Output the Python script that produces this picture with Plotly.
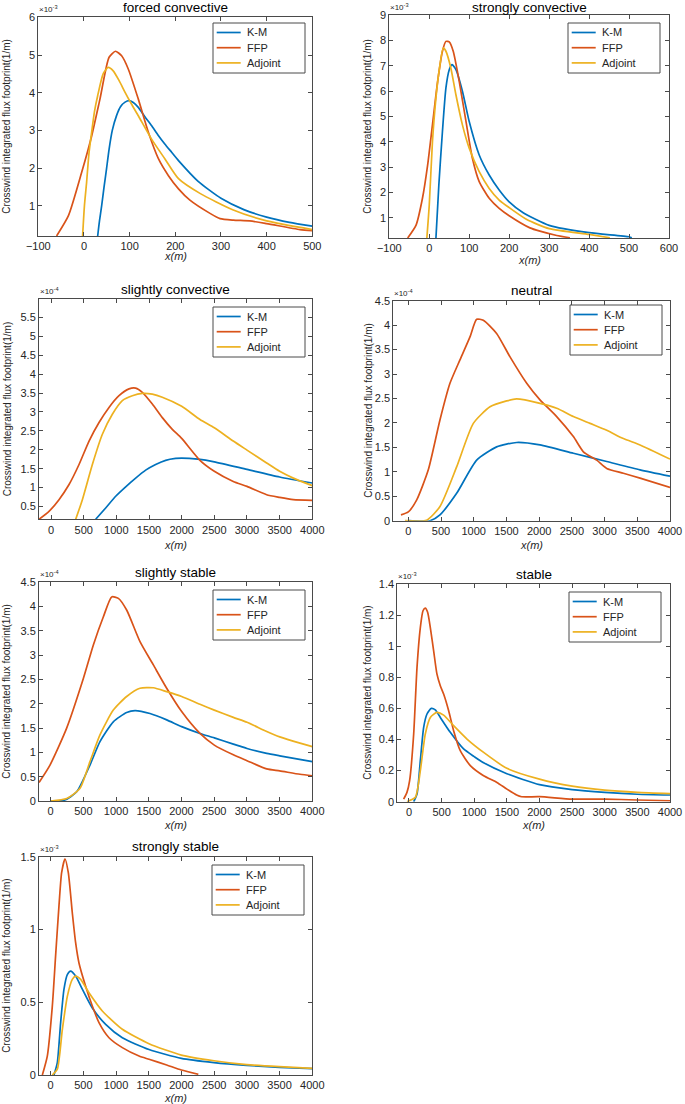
import plotly.graph_objects as go

W, H = 685, 1104

# ---------------- data (values shown in units of the axis exponent) ----------------
# forced convective (x1e-3)
fc_km_x = [30, 34, 38.7, 44, 49.6, 55, 62, 71.5, 80, 90, 98.5, 108, 119, 133, 148, 162, 177, 192, 207, 250, 300, 350, 400, 450, 500]
fc_km_y = [0.2, 0.6, 1.0, 1.5, 2.0, 2.5, 3.0, 3.4, 3.63, 3.75, 3.79, 3.74, 3.61, 3.37, 3.13, 2.88, 2.64, 2.42, 2.2, 1.65, 1.2, 0.9, 0.7, 0.56, 0.46]
fc_ffp_x = [-60, -34, -5, 17, 35, 55, 69, 82.5, 97, 119, 141, 163, 185, 207, 232, 276, 298, 327, 363, 400, 473, 500]
fc_ffp_y = [0.2, 0.74, 1.89, 2.86, 3.83, 4.94, 5.1, 4.98, 4.63, 3.83, 2.95, 2.25, 1.8, 1.45, 1.15, 0.8, 0.66, 0.62, 0.6, 0.53, 0.37, 0.34]
fc_adj_x = [-3, 1, 5.8, 11, 16.8, 23, 30, 42, 53, 64, 77, 90, 104, 119, 148, 177, 207, 254, 327, 400, 500]
fc_adj_y = [0.2, 1.0, 1.63, 2.4, 2.95, 3.5, 3.92, 4.5, 4.67, 4.58, 4.32, 4.01, 3.7, 3.39, 2.77, 2.25, 1.72, 1.33, 0.89, 0.6, 0.37]

# strongly convective (x1e-3)
sc_km_x = [16.7, 24, 33, 41.7, 50, 56.7, 66.7, 83, 100, 125, 150, 175, 200, 235, 300, 400, 500, 507]
sc_km_y = [0.19, 2.3, 4.41, 6.13, 6.85, 7.05, 6.85, 6.0, 4.8, 3.48, 2.69, 2.1, 1.63, 1.2, 0.7, 0.41, 0.25, 0.21]
sc_ffp_x = [-54, -33, -17, -4, 8, 21, 33, 41.7, 50, 60, 75, 92, 108, 125, 150, 175, 200, 252, 277, 319, 352]
sc_ffp_y = [0.2, 0.71, 1.77, 3.09, 4.67, 6.39, 7.58, 7.97, 7.95, 7.58, 6.39, 4.8, 3.35, 2.43, 1.77, 1.37, 1.08, 0.6, 0.47, 0.3, 0.21]
sc_adj_x = [-6, 0, 8, 16.7, 25, 35, 41.7, 54, 66.7, 83, 100, 125, 150, 175, 200, 244, 300, 400, 452]
sc_adj_y = [0.2, 1.5, 4.0, 5.73, 6.85, 7.71, 7.58, 6.92, 5.86, 4.67, 3.75, 2.82, 2.16, 1.7, 1.4, 0.93, 0.57, 0.34, 0.21]

# slightly convective (x1e-4)
slc_km_x = [684, 837, 990, 1143, 1296, 1449, 1602, 1755, 1908, 2000, 2250, 2500, 3000, 3500, 4000]
slc_km_y = [0.16, 0.46, 0.77, 1.02, 1.25, 1.46, 1.61, 1.72, 1.77, 1.78, 1.75, 1.68, 1.48, 1.28, 1.12]
slc_ffp_x = [-184, -31, 122, 276, 429, 582, 735, 888, 1041, 1194, 1296, 1398, 1551, 1704, 1857, 2000, 2280, 2500, 2790, 3000, 3301, 3500, 3709, 4000]
slc_ffp_y = [0.16, 0.37, 0.68, 1.08, 1.61, 2.23, 2.72, 3.12, 3.43, 3.61, 3.63, 3.52, 3.21, 2.85, 2.54, 2.3, 1.72, 1.43, 1.16, 1.03, 0.81, 0.74, 0.68, 0.66]
slc_adj_x = [378, 480, 633, 786, 939, 1092, 1245, 1398, 1551, 1704, 2000, 2280, 2500, 2790, 3000, 3301, 3500, 3709, 4000]
slc_adj_y = [0.16, 0.68, 1.61, 2.41, 2.94, 3.3, 3.43, 3.49, 3.47, 3.39, 3.15, 2.8, 2.58, 2.23, 1.99, 1.65, 1.43, 1.25, 1.05]

# neutral (x1e-4)
neu_km_x = [0, 331, 484, 739, 1045, 1350, 1656, 2013, 2523, 3033, 3542, 4000]
neu_km_y = [0, 0, 0.12, 0.56, 1.24, 1.51, 1.6, 1.55, 1.38, 1.21, 1.04, 0.91]
neu_ffp_x = [-112, 0, 127, 306, 484, 637, 790, 943, 1045, 1147, 1350, 1555, 1810, 2013, 2268, 2523, 2676, 2880, 3033, 3287, 3542, 4000]
neu_ffp_y = [0.12, 0.18, 0.42, 1.04, 2.06, 2.81, 3.29, 3.76, 4.12, 4.1, 3.83, 3.35, 2.81, 2.47, 2.13, 1.72, 1.41, 1.24, 1.07, 0.97, 0.87, 0.68]
neu_adj_x = [-51, 280, 484, 739, 994, 1249, 1503, 1656, 2013, 2268, 2523, 2778, 3033, 3287, 3542, 4000]
neu_adj_y = [0, 0.01, 0.29, 1.1, 1.99, 2.33, 2.45, 2.49, 2.4, 2.3, 2.13, 1.99, 1.85, 1.68, 1.55, 1.26]

# slightly stable (x1e-4)
sls_km_x = [0, 219, 398, 601, 754, 958, 1162, 1290, 1519, 1774, 2003, 2283, 2502, 2793, 3002, 3303, 3502, 4000]
sls_km_y = [0, 0.02, 0.19, 0.74, 1.22, 1.63, 1.82, 1.86, 1.8, 1.67, 1.53, 1.39, 1.3, 1.17, 1.08, 0.98, 0.93, 0.81]
sls_ffp_x = [-178, -10, 245, 500, 653, 806, 933, 1035, 1162, 1366, 1570, 1774, 2003, 2283, 2502, 2793, 3002, 3303, 3502, 3812, 4000]
sls_ffp_y = [0.38, 0.74, 1.5, 2.52, 3.21, 3.79, 4.2, 4.17, 3.93, 3.28, 2.8, 2.32, 1.84, 1.39, 1.15, 0.95, 0.83, 0.66, 0.62, 0.55, 0.52]
sls_adj_x = [0, 245, 449, 601, 754, 958, 1162, 1366, 1570, 1774, 2003, 2283, 2502, 2793, 3002, 3303, 3502, 3812, 4000]
sls_adj_y = [0, 0.05, 0.26, 0.81, 1.36, 1.87, 2.15, 2.32, 2.33, 2.25, 2.15, 1.99, 1.87, 1.72, 1.62, 1.43, 1.32, 1.19, 1.12]

# stable (x1e-3)
st_km_x = [72, 123, 174, 225, 276, 342, 403, 480, 633, 837, 1000, 1144, 1500, 2000, 2500, 3000, 3500, 4000]
st_km_y = [0, 0.05, 0.264, 0.478, 0.564, 0.6, 0.59, 0.542, 0.446, 0.339, 0.29, 0.25, 0.18, 0.11, 0.078, 0.06, 0.048, 0.043]
st_ffp_x = [-82, -31, 10, 72, 123, 174, 215, 250, 286, 327, 378, 429, 480, 531, 608, 684, 786, 940, 1144, 1348, 1501, 1650, 1726, 2000, 2500, 3000, 3500, 4000]
st_ffp_y = [0.017, 0.06, 0.135, 0.435, 0.864, 1.12, 1.228, 1.245, 1.218, 1.12, 0.97, 0.82, 0.746, 0.692, 0.585, 0.457, 0.328, 0.232, 0.167, 0.124, 0.081, 0.043, 0.032, 0.032, 0.017, 0.017, 0.011, 0.006]
st_adj_x = [-31, 97, 174, 250, 327, 429, 531, 684, 889, 1144, 1500, 2000, 2500, 3000, 3500, 4000]
st_adj_y = [0, 0.028, 0.2, 0.435, 0.542, 0.574, 0.557, 0.489, 0.403, 0.317, 0.215, 0.145, 0.1, 0.074, 0.06, 0.052]

# strongly stable (x1e-3)
ss_km_x = [51, 102, 153, 204, 255, 306, 382, 484, 637, 841, 1096, 1504, 1998, 2497, 2997, 3496, 4000]
ss_km_y = [0, 0.085, 0.36, 0.59, 0.69, 0.714, 0.68, 0.59, 0.46, 0.348, 0.256, 0.175, 0.114, 0.085, 0.066, 0.053, 0.044]
ss_ffp_x = [-127, -51, 25, 76, 127, 168, 219, 270, 331, 382, 433, 535, 637, 739, 892, 1096, 1351, 1504, 1774, 1998, 2258]
ss_ffp_y = [0, 0.13, 0.47, 0.82, 1.16, 1.39, 1.486, 1.39, 1.115, 0.909, 0.77, 0.61, 0.474, 0.36, 0.256, 0.188, 0.13, 0.108, 0.069, 0.034, 0.005]
ss_adj_x = [25, 102, 178, 255, 331, 382, 459, 586, 790, 1096, 1504, 1998, 2497, 2997, 3496, 4000]
ss_adj_y = [0, 0.04, 0.31, 0.54, 0.657, 0.68, 0.657, 0.565, 0.44, 0.314, 0.215, 0.137, 0.098, 0.071, 0.057, 0.046]

series_names = ["K-M", "FFP", "Adjoint"]
colors = ["#0072BD", "#D95319", "#EDB120"]

titles = ["forced convective", "strongly convective", "slightly convective", "neutral",
          "slightly stable", "stable", "strongly stable"]
exponents = ["-3", "-3", "-4", "-4", "-4", "-3", "-3"]

panel_data = [
    [(fc_km_x, fc_km_y), (fc_ffp_x, fc_ffp_y), (fc_adj_x, fc_adj_y)],
    [(sc_km_x, sc_km_y), (sc_ffp_x, sc_ffp_y), (sc_adj_x, sc_adj_y)],
    [(slc_km_x, slc_km_y), (slc_ffp_x, slc_ffp_y), (slc_adj_x, slc_adj_y)],
    [(neu_km_x, neu_km_y), (neu_ffp_x, neu_ffp_y), (neu_adj_x, neu_adj_y)],
    [(sls_km_x, sls_km_y), (sls_ffp_x, sls_ffp_y), (sls_adj_x, sls_adj_y)],
    [(st_km_x, st_km_y), (st_ffp_x, st_ffp_y), (st_adj_x, st_adj_y)],
    [(ss_km_x, ss_km_y), (ss_ffp_x, ss_ffp_y), (ss_adj_x, ss_adj_y)],
]

x_ranges = [[-100, 500], [-100, 600], [-184, 4000], [-229, 4000], [-178, 4000], [-179, 4000], [-178, 4000]]
x_ticks = [list(range(-100, 501, 100)), list(range(-100, 601, 100))] + [list(range(0, 4001, 500))] * 5
y_ranges = [[0.2, 6], [0.2, 9], [0.16, 5.98], [0, 4.5], [0, 4.5], [0, 1.4], [0, 1.5]]
y_ticks = [[1, 2, 3, 4, 5, 6], [1, 2, 3, 4, 5, 6, 7, 8, 9],
           [0.5, 1, 1.5, 2, 2.5, 3, 3.5, 4, 4.5, 5, 5.5],
           [0, 0.5, 1, 1.5, 2, 2.5, 3, 3.5, 4, 4.5],
           [0, 0.5, 1, 1.5, 2, 2.5, 3, 3.5, 4, 4.5],
           [0, 0.2, 0.4, 0.6, 0.8, 1, 1.2, 1.4],
           [0, 0.5, 1, 1.5]]

# ---------------- layout geometry (pixels) ----------------
boxes = [(38.3, 17.3, 312.3, 236), (389.3, 15.3, 669, 238),
         (39, 299.3, 312.3, 519.3), (393.3, 300.7, 670, 520.7),
         (39, 582.3, 312.3, 801), (397.3, 584, 670, 801.7),
         (39, 856.7, 312.3, 1075)]
legend_pos = [(213, 23), (568, 23), (213, 307), (570, 305), (213, 590), (569, 592), (212, 865)]
LEG_W, LEG_H = 92, 50
xlab_y = [256, 260, 545, 545, 825, 825, 1098]
ylab_x = [7, 368, 7, 369, 7, 368, 7]

FONT = "Liberation Sans, Arial, Helvetica, sans-serif"
TXT = "#262626"
AX = "#4a4a4a"

def px(x):
    return x / W

def py(y):
    return 1 - y / H

fig = go.Figure()
layout = dict(width=W, height=H, margin=dict(l=0, r=0, t=0, b=0, pad=0, autoexpand=False),
              paper_bgcolor="white", plot_bgcolor="white", template="none", showlegend=False,
              font=dict(family=FONT, size=11, color=TXT), annotations=[], shapes=[])

for i in range(7):
    n = i + 1
    xa = "x" if n == 1 else f"x{n}"
    ya = "y" if n == 1 else f"y{n}"
    for j, (xs, ys) in enumerate(panel_data[i]):
        fig.add_trace(go.Scatter(x=xs, y=ys, mode="lines", name=series_names[j],
                                 line=dict(color=colors[j], width=1.7, shape="spline", smoothing=0.6),
                                 xaxis=xa, yaxis=ya, showlegend=False))
    x0, y0, x1, y1 = boxes[i]
    axcommon = dict(showline=True, linecolor=AX, linewidth=1, mirror="ticks", automargin=False,
                    ticks="inside", ticklen=4, tickcolor=AX, showgrid=False, zeroline=False,
                    tickfont=dict(size=11, color=TXT, family=FONT))
    layout[f"xaxis{n}"] = dict(domain=[px(x0), px(x1)], range=x_ranges[i], tickvals=x_ticks[i],
                               anchor=ya, **axcommon)
    layout[f"yaxis{n}"] = dict(domain=[py(y1), py(y0)], range=y_ranges[i], tickvals=y_ticks[i],
                               anchor=xa, **axcommon)

    # legend box (drawn by hand to match the compact MATLAB legend)
    lx, ly = legend_pos[i]
    layout["shapes"].append(dict(type="rect", xref="paper", yref="paper",
                                 x0=px(lx), x1=px(lx + LEG_W), y0=py(ly + LEG_H), y1=py(ly),
                                 line=dict(color=AX, width=1), fillcolor="white", layer="above"))
    for j, name in enumerate(series_names):
        yy = ly + 9.5 + 15.2 * j
        layout["shapes"].append(dict(type="line", xref="paper", yref="paper",
                                     x0=px(lx + 3.7), x1=px(lx + 27.7), y0=py(yy), y1=py(yy),
                                     line=dict(color=colors[j], width=1.7), layer="above"))
        layout["annotations"].append(dict(text=name, x=px(lx + 32), y=py(yy), xref="paper", yref="paper",
                                          xanchor="left", yanchor="middle", showarrow=False,
                                          font=dict(size=11, color=TXT, family=FONT)))

    cx = px((x0 + x1) / 2)
    # title
    layout["annotations"].append(dict(text=titles[i], x=cx, y=py(max(y0 - 10, 7.5)), xref="paper", yref="paper",
                                      xanchor="center", yanchor="middle", showarrow=False,
                                      font=dict(size=13.5, color="black", family=FONT)))
    # exponent
    layout["annotations"].append(dict(text=f"×10<sup>{exponents[i]}</sup>", x=px(x0 - 1), y=py(y0 - 1),
                                      xref="paper", yref="paper", xanchor="left", yanchor="bottom",
                                      showarrow=False, font=dict(size=8, color=TXT, family=FONT)))
    # x label
    layout["annotations"].append(dict(text="<i>x(m)</i>", x=cx, y=py(xlab_y[i]), xref="paper", yref="paper",
                                      xanchor="center", yanchor="middle", showarrow=False,
                                      font=dict(size=11, color=TXT, family=FONT)))
    # y label
    layout["annotations"].append(dict(text="Crosswind integrated flux footprint(1/m)", x=px(ylab_x[i]),
                                      y=py((y0 + y1) / 2), xref="paper", yref="paper",
                                      xanchor="center", yanchor="middle", textangle=-90, showarrow=False,
                                      font=dict(size=10, color=TXT, family=FONT)))

fig.update_layout(**layout)
fig.write_html("out.html", config={"displayModeBar": False},
               post_script="document.body.style.margin='0';document.body.style.padding='0';"
                           "document.documentElement.style.margin='0';document.body.style.overflow='hidden';")
